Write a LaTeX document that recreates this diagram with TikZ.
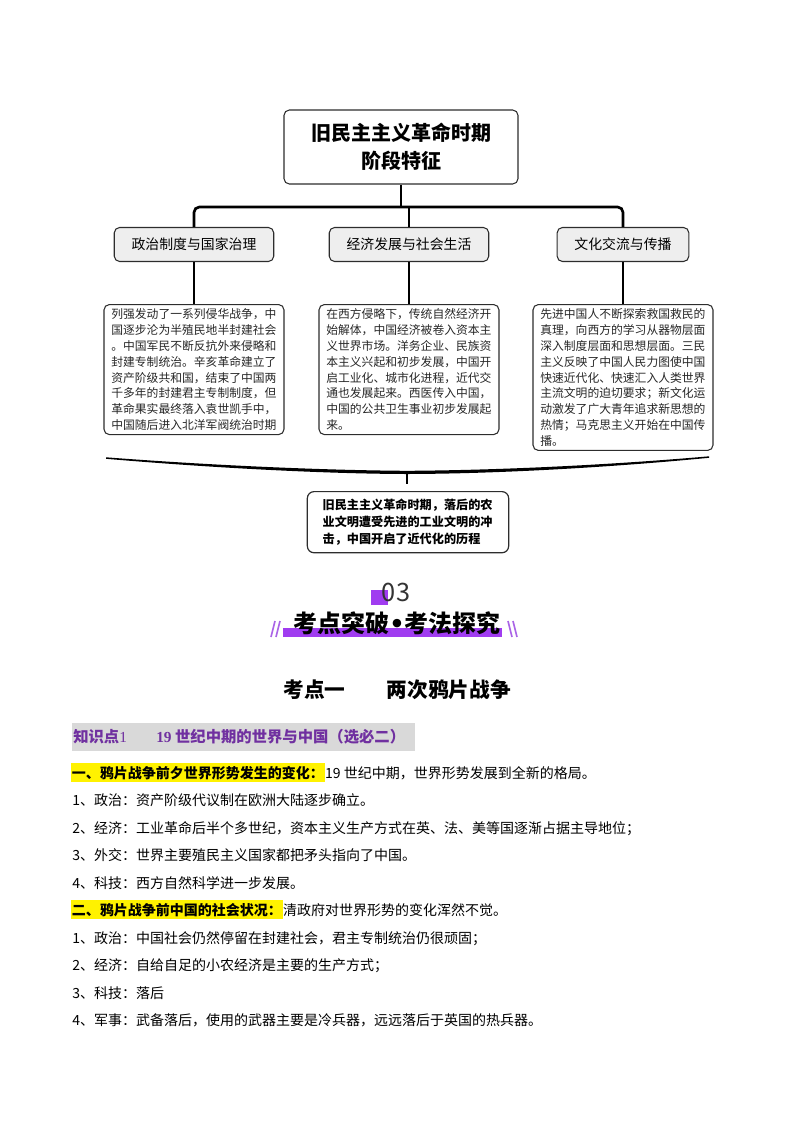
\documentclass[tikz,border=0pt]{standalone}
\usepackage{fontspec}
\setmainfont{Noto Sans CJK SC}
\newfontfamily\numfont{Liberation Serif}
\newfontfamily\dotfont{DejaVu Sans}
\usepackage{xcolor}
\usepackage{tikz}
\usetikzlibrary{positioning}
\definecolor{catgray}{RGB}{238,238,238}
\definecolor{edgegray}{RGB}{45,45,45}
\definecolor{violetbar}{RGB}{160,60,240}
\definecolor{slashviolet}{RGB}{170,100,230}
\definecolor{kpurple}{RGB}{112,48,160}
\definecolor{kgray}{RGB}{217,217,217}
\tikzstyle{tree} = [line width=2pt, rounded corners=4pt]
\tikzstyle{link} = [line width=1.1pt]
\tikzstyle{slash} = [line width=1.2pt, slashviolet]
\tikzstyle{titlebox} = [rectangle, rounded corners=4pt, draw=edgegray, line width=0.8pt, minimum width=175.5pt, minimum height=55.5pt, align=center, font=\fontsize{15}{21}\selectfont\bfseries]
\tikzstyle{catbox} = [rectangle, rounded corners=4pt, draw=edgegray, fill=catgray, line width=0.8pt, minimum height=25.5pt, inner xsep=13pt, font=\fontsize{10.4}{12}\selectfont]
\tikzstyle{notebox} = [rectangle, rounded corners=4pt, draw=edgegray, line width=0.8pt, text width=124pt, inner xsep=5.5pt, inner ysep=3pt, align=left, text=black!85, font=\fontsize{8.85}{11.9}\selectfont]
\tikzstyle{sumbox} = [rectangle, rounded corners=5pt, draw=edgegray, line width=0.9pt, text width=128pt, inner xsep=11.5pt, inner ysep=5.5pt, align=left, font=\fontsize{9.1}{12.75}\selectfont\bfseries]
\tikzstyle{bodyline} = [anchor=base west, inner sep=0pt, font=\fontsize{10.5}{12}\selectfont]
\tikzstyle{marker} = [anchor=base west, inner xsep=0.5pt, inner ysep=0pt, fill=yellow, minimum height=14.25pt, font=\fontsize{10.5}{12}\selectfont\bfseries]

\begin{document}
\begin{tikzpicture}[x=0.75pt, y=-0.75pt]
  \useasboundingbox (0,0) rectangle (794,1122);

  % Tree
  \node (title) [titlebox] at (401,147) {旧民主主义革命时期\\阶段特征};
  \coordinate (hub) at (401,207);
  \node (pol) [catbox] at (194,244.5) {政治制度与国家治理};
  \node (eco) [catbox] at (409,244.5) {经济发展与社会生活};
  \node (cul) [catbox] at (623,244.5) {文化交流与传播};

  \draw[tree] (title.south) -- (hub);
  \draw[tree] (pol.north) |- (hub) -| (cul.north);
  \draw[tree] (eco.north) -- (eco.north |- hub);

  % Notes
  \node (polnote) [notebox, below=31.5pt of pol] {列强发动了一系列侵华战争，中\\国逐步沦为半殖民地半封建社会\\。中国军民不断反抗外来侵略和\\封建专制统治。辛亥革命建立了\\资产阶级共和国，结束了中国两\\千多年的封建君主专制制度，但\\革命果实最终落入袁世凯手中，\\中国随后进入北洋军阀统治时期};
  \node (econote) [notebox, below=31.5pt of eco] {在西方侵略下，传统自然经济开\\始解体，中国经济被卷入资本主\\义世界市场。洋务企业、民族资\\本主义兴起和初步发展，中国开\\启工业化、城市化进程，近代交\\通也发展起来。西医传入中国，\\中国的公共卫生事业初步发展起\\来。};
  \node (culnote) [notebox, below=31.5pt of cul] {先进中国人不断探索救国救民的\\真理，向西方的学习从器物层面\\深入制度层面和思想层面。三民\\主义反映了中国人民力图使中国\\快速近代化、快速汇入人类世界\\主流文明的迫切要求；新文化运\\动激发了广大青年追求新思想的\\热情；马克思主义开始在中国传\\播。};

  \draw[link] (pol.south) -- (polnote.north);
  \draw[link] (eco.south) -- (econote.north);
  \draw[link] (cul.south) -- (culnote.north);

  % Brace and summary
  \fill (106,457.3) .. controls (220,466) and (330,470.3) .. (407,470.8)
    .. controls (490,470.3) and (600,465.8) .. (709,456.3)
    -- (709,457.8) .. controls (600,468.3) and (490,473.8) .. (407,474)
    .. controls (330,473.8) and (220,468.5) .. (106,458.8) -- cycle;
  \coordinate (brace) at (407,472);
  \coordinate (tick) at (407,484);
  \draw[line width=0.8pt] (brace) -- (tick);
  \node (summary) [sumbox, anchor=north] at (408,491) {旧民主主义革命时期，落后的农\\业文明遭受先进的工业文明的冲\\击，中国开启了近代化的历程};

  % Section header
  \fill[violetbar] (371,590) rectangle (388,605);
  \node (secnum) [font=\fontsize{19}{20}\selectfont, text=black!80] at (396,592) {03};
  \fill[violetbar] (283,628) rectangle (502,637);
  \node (sectitle) [font=\fontsize{18}{20}\selectfont\bfseries] at (397,623) {考点突破{\dotfont\bfseries •}考法探究};
  \draw[slash] (271,637) -- (275,621);
  \draw[slash] (276,637) -- (280,621);
  \draw[slash] (508,621) -- (512,637);
  \draw[slash] (513,621) -- (517,637);

  \node (topic) [font=\fontsize{15.5}{18}\selectfont\bfseries] at (397,690) {考点一　　两次鸦片战争};

  % Knowledge point
  \fill[kgray] (72,723) rectangle (415,751);
  \node (kp) [anchor=base west, inner sep=0pt, text=kpurple, font=\fontsize{11.5}{13}\selectfont\bfseries] at (73,742) {知识点{\numfont\mdseries 1}\hspace{22pt}{\numfont 19} 世纪中期的世界与中国（选必二）};

  % Body
  \node (mark1) [marker] at (71,778) {一、鸦片战争前夕世界形势发生的变化：};
  \node (line1) [bodyline] at (mark1.base east) {19 世纪中期，世界形势发展到全新的格局。};
  \node (line2) [bodyline] at (72,805) {1、政治：资产阶级代议制在欧洲大陆逐步确立。};
  \node (line3) [bodyline] at (72,833) {2、经济：工业革命后半个多世纪，资本主义生产方式在英、法、美等国逐渐占据主导地位；};
  \node (line4) [bodyline] at (72,860) {3、外交：世界主要殖民主义国家都把矛头指向了中国。};
  \node (line5) [bodyline] at (72,888) {4、科技：西方自然科学进一步发展。};
  \node (mark2) [marker] at (71,915) {二、鸦片战争前中国的社会状况：};
  \node (line6) [bodyline] at (mark2.base east) {清政府对世界形势的变化浑然不觉。};
  \node (line7) [bodyline] at (72,943) {1、政治：中国社会仍然停留在封建社会，君主专制统治仍很顽固；};
  \node (line8) [bodyline] at (72,970) {2、经济：自给自足的小农经济是主要的生产方式；};
  \node (line9) [bodyline] at (72,998) {3、科技：落后};
  \node (line10) [bodyline] at (72,1025) {4、军事：武备落后，使用的武器主要是冷兵器，远远落后于英国的热兵器。};

\end{tikzpicture}
\end{document}
